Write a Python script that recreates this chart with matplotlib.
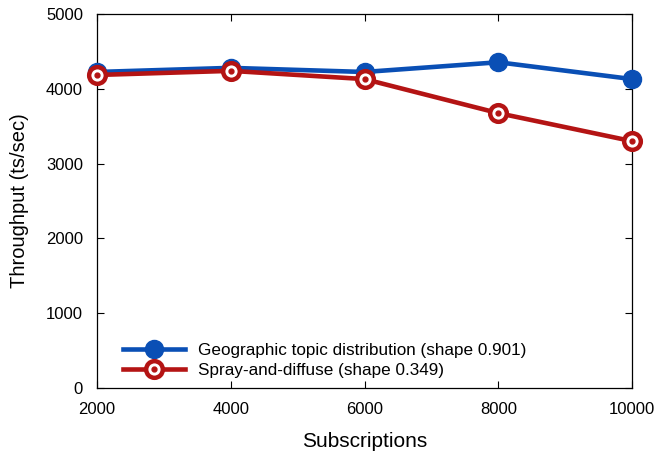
import matplotlib
matplotlib.use("Agg")
import matplotlib.pyplot as plt
from matplotlib.legend_handler import HandlerTuple

subscriptions = [2000, 4000, 6000, 8000, 10000]
geo_throughput = [4225, 4280, 4225, 4355, 4130]
spray_throughput = [4185, 4240, 4130, 3675, 3300]
geo_label = "Geographic topic distribution (shape 0.901)"
spray_label = "Spray-and-diffuse (shape 0.349)"

blue = "#0a4fb5"
red = "#b41414"

plt.rcParams["font.family"] = ["Liberation Sans", "DejaVu Sans"]

fig = plt.figure(figsize=(6.57, 4.55), dpi=100)
ax = fig.add_axes([0.1476, 0.1473, 0.8144, 0.8219])

g, = ax.plot(subscriptions, geo_throughput, color=blue, lw=3.3, marker="o",
             ms=13, mfc=blue, mec=blue, zorder=3, clip_on=False)
s, = ax.plot(subscriptions, spray_throughput, color=red, lw=3.3, marker="o",
             ms=12, mfc="white", mec=red, mew=3.2, zorder=4, clip_on=False)
sdot, = ax.plot(subscriptions, spray_throughput, ls="none", marker="o",
                ms=3.5, mfc=red, mec=red, zorder=5, clip_on=False)

ax.set_xlim(2000, 10000)
ax.set_ylim(0, 5000)
ax.set_xticks(subscriptions)
ax.set_yticks(range(0, 5001, 1000))
ax.tick_params(direction="in", top=True, right=True, length=5, width=0.8,
               labelsize=12, pad=10)
for sp in ax.spines.values():
    sp.set_linewidth(0.9)

ax.set_xlabel("Subscriptions", fontsize=15, labelpad=11)
ax.set_ylabel("Throughput (ts/sec)", fontsize=14.5, labelpad=12)

ax.legend([g, (s, sdot)], [geo_label, spray_label],
          handler_map={tuple: HandlerTuple(ndivide=1, pad=0)},
          loc="lower left", bbox_to_anchor=(0.03, 0.0), frameon=False,
          fontsize=12.3, handlelength=3.6, handletextpad=0.75,
          labelspacing=0.3, borderaxespad=0.2)

fig.savefig("out.png", dpi=100)
